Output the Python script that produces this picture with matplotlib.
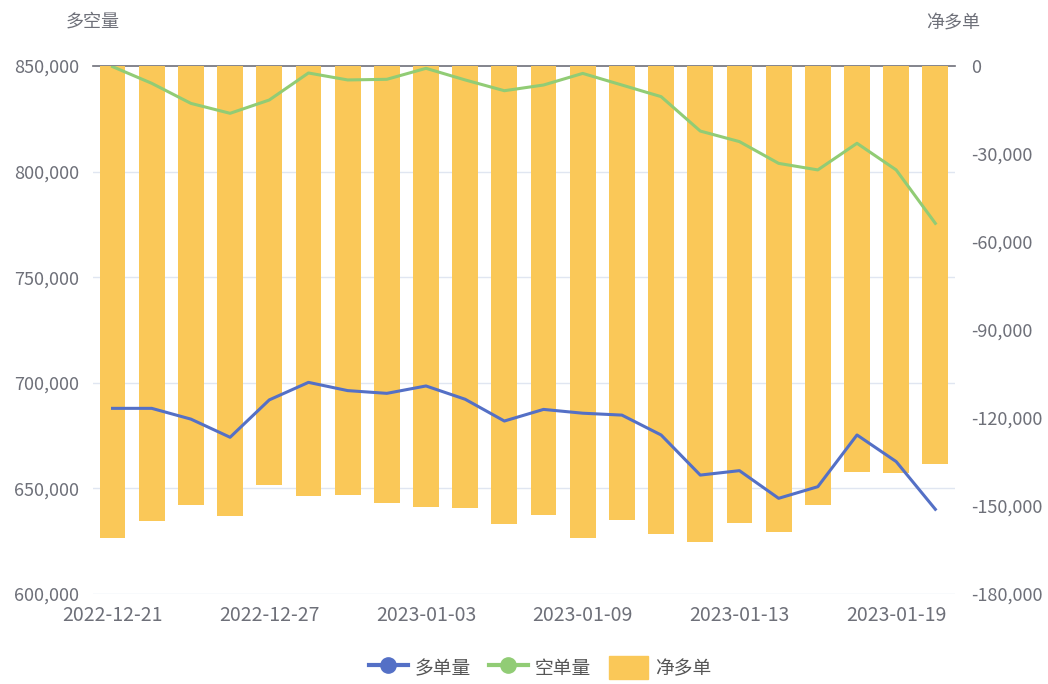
import matplotlib

matplotlib.use("Agg")
import matplotlib.pyplot as plt  # noqa: E402
from matplotlib.lines import Line2D  # noqa: E402
from matplotlib.patches import Patch  # noqa: E402
from matplotlib.ticker import FuncFormatter  # noqa: E402
from matplotlib.transforms import blended_transform_factory  # noqa: E402

plt.rcParams["font.family"] = ["Noto Sans CJK SC", "DejaVu Sans"]

dates = [
    "2022-12-21", "2022-12-22", "2022-12-23", "2022-12-26", "2022-12-27", "2022-12-28",
    "2022-12-29", "2022-12-30", "2023-01-03", "2023-01-04", "2023-01-05", "2023-01-06",
    "2023-01-09", "2023-01-10", "2023-01-11", "2023-01-12", "2023-01-13", "2023-01-16",
    "2023-01-17", "2023-01-18", "2023-01-19", "2023-01-20",
]
long_vol = [
    687900, 687900, 682800, 674200, 691900, 700200, 696300, 695000, 698500, 692200, 681900,
    687400, 685600, 684700, 675300, 656300, 658400, 645300, 650800, 675300, 662700, 640100,
]
short_vol = [
    849700, 841800, 832300, 827600, 833900, 846700, 843400, 843700, 848900, 843400, 838300,
    841000, 846500, 841000, 835500, 819200, 814200, 803900, 800800, 813400, 800800, 775500,
]
net_long = [
    -160800, -155000, -149700, -153300, -142800, -146600, -146400, -148900, -150400, -150600,
    -156000, -153100, -161000, -154900, -159400, -162200, -155700, -158800, -149800, -138300,
    -138650, -135600,
]
left_ticks = [600000, 650000, 700000, 750000, 800000, 850000]
right_ticks = [-180000, -150000, -120000, -90000, -60000, -30000, 0]

BLUE = "#5470c6"
GREEN = "#91cc75"
YELLOW = "#fac858"
LABEL = "#6e7079"
GRID = "#e0e6f1"

fig = plt.figure(figsize=(10.48, 6.84), dpi=100)
ax_bar = fig.add_axes([0.0887, 0.1316, 0.8225, 0.7719])
ax_line = ax_bar.twinx()
ax_line.set_zorder(ax_bar.get_zorder() + 1)
ax_line.patch.set_visible(False)
ax_bar.yaxis.tick_right()
ax_line.yaxis.tick_left()

x = list(range(len(dates)))

# grid follows the left axis but sits under the bars
grid_tf = blended_transform_factory(ax_bar.transAxes, ax_line.transData)
ax_line.set_ylim(left_ticks[0], left_ticks[-1])
for tick in left_ticks[:-1]:
    ax_bar.plot([0, 1], [tick, tick], color=GRID, lw=1, transform=grid_tf, zorder=0)

ax_bar.bar(x, net_long, width=0.66, color=YELLOW, zorder=2)
ax_bar.axhline(0, color=LABEL, lw=1.2, zorder=1, clip_on=False)
ax_bar.set_ylim(right_ticks[0], right_ticks[-1])
ax_bar.set_xlim(-0.5, len(dates) - 0.5)

ax_line.plot(x, long_vol, color=BLUE, lw=2.2, solid_joinstyle="round")
ax_line.plot(x, short_vol, color=GREEN, lw=2.2, solid_joinstyle="round")

fmt = FuncFormatter(lambda v, _: f"{int(v):,}")
ax_line.set_yticks(left_ticks)
ax_line.yaxis.set_major_formatter(fmt)
ax_bar.set_yticks(right_ticks)
ax_bar.yaxis.set_major_formatter(fmt)
ax_bar.set_xticks(x[::4])
ax_bar.set_xticklabels(dates[::4])

for axis in (ax_bar, ax_line):
    for spine in axis.spines.values():
        spine.set_visible(False)
    axis.tick_params(length=0, colors=LABEL, labelsize=13)
ax_bar.tick_params(axis="y", pad=12)
ax_line.tick_params(axis="y", pad=10)
ax_bar.tick_params(axis="x", labelsize=14, pad=8)

fig.text(0.088, 0.968, "多空量", color=LABEL, fontsize=13, ha="center", va="center")
fig.text(0.909, 0.966, "净多单", color=LABEL, fontsize=13, ha="center", va="center")

handles = [
    Line2D([0], [0], color=BLUE, lw=3, marker="o", markersize=11),
    Line2D([0], [0], color=GREEN, lw=3, marker="o", markersize=11),
    Patch(color=YELLOW),
]
fig.legend(
    handles,
    ["多单量", "空单量", "净多单"],
    loc="center",
    bbox_to_anchor=(0.515, 0.024),
    ncol=3,
    frameon=False,
    fontsize=13.5,
    handlelength=2.1,
    handleheight=1.5,
    columnspacing=0.95,
    handletextpad=0.35,
    labelcolor="#555555",
)

fig.savefig("out.png", dpi=100)
plt.close(fig)
